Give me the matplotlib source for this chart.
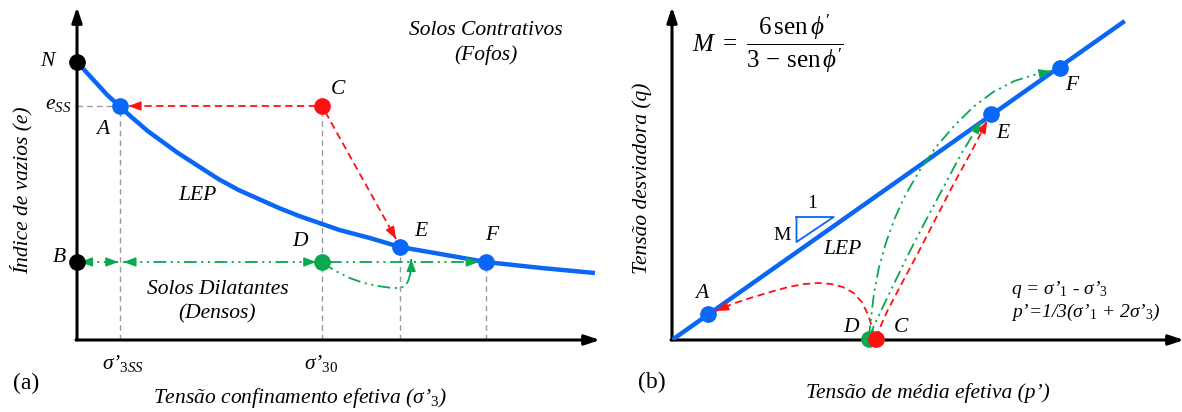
import numpy as np
import matplotlib.pyplot as plt

plt.rcParams['font.family'] = ['Liberation Serif', 'DejaVu Serif']
plt.rcParams['mathtext.fontset'] = 'custom'
plt.rcParams['mathtext.rm'] = 'Liberation Serif'
plt.rcParams['mathtext.it'] = 'Liberation Serif:italic'
plt.rcParams['mathtext.bf'] = 'Liberation Serif:bold'

AZUL = '#0A66F5'
VERM = '#FF1010'
VERDE = '#0AA84F'
CINZA = '#9A9A9A'

# ---------------------------------------------------------------
# (a) indice de vazios x tensao confinamento (unidades do esquema)
# ---------------------------------------------------------------
lep_s3 = [0, 10, 20, 30, 43, 55, 70, 85, 100, 120, 140, 160, 180, 200, 220,
          240, 260, 290, 320, 360, 405, 460, 513]
lep_e = [278, 267, 256, 245, 233, 222, 209, 198, 187, 174, 161, 150, 141, 132, 124,
         117, 110, 102, 93, 86, 78, 72, 67]

nomes_a = ['N', 'A', 'C', 'E', 'F', 'B', 'D']
s3_a = [0, 43, 243, 320, 405, 0, 243]
e_a = [278, 234, 234, 93, 78, 78, 78]
cores_a = ['k', AZUL, VERM, AZUL, AZUL, 'k', VERDE]

# caminho curvo D -> E (verde)
dip_s3 = [243, 248, 258, 270, 284, 298, 312, 320, 325, 328, 330, 331, 331]
dip_e = [78, 74, 68, 62, 57, 54, 52, 52, 54, 59, 66, 74, 81]

# ---------------------------------------------------------------
# (b) q x p'
# ---------------------------------------------------------------
lep_p = [0, 451]
lep_q = [0, 319]

nomes_b = ['A', 'E', 'F', 'D', 'C']
p_b = [36, 318, 386, 196, 203]
q_b = [26, 226, 272, 1, 1]
cores_b = [AZUL, AZUL, AZUL, VERDE, VERM]

red_ca_p = [201, 199, 195, 189, 181, 170, 158, 146, 132, 116, 98, 78, 60, 44]
red_ca_q = [4, 14, 26, 38, 47, 53, 56, 57, 56, 53, 48, 42, 36, 29]
red_ce_p = [204, 207, 215, 228, 244, 262, 280, 298, 314]
red_ce_q = [2, 12, 30, 55, 85, 120, 155, 188, 219]
grn_de_p = [197, 201, 210, 222, 236, 252, 270, 288, 308]
grn_de_q = [2, 14, 33, 58, 87, 118, 152, 186, 219]
grn_df_p = [196, 198, 201, 206, 213, 222, 233, 247, 263, 281, 300, 320, 341, 360, 378]
grn_df_q = [2, 20, 45, 72, 97, 122, 146, 170, 193, 214, 233, 248, 259, 265, 269]

tri_p = [124, 161, 124, 124]
tri_q = [123, 123, 98, 123]

TRACO = (0, (4, 2.5))
TRACO_PONTO = (0, (7, 2.5, 1.2, 2.5, 1.2, 2.5))
CINZA_TRACO = (0, (4, 3))


def ponta(ax, x, y, cor):
    # cabeca de seta no ultimo ponto do caminho
    dx, dy = x[-1] - x[-2], y[-1] - y[-2]
    n = np.hypot(dx, dy)
    ax.annotate('', xy=(x[-1], y[-1]), xytext=(x[-1] - dx / n * 2, y[-1] - dy / n * 2),
                arrowprops=dict(arrowstyle='-|>,head_length=0.75,head_width=0.28',
                                color=cor, lw=1, shrinkA=0, shrinkB=0), zorder=4)


def caminho(ax, x, y, cor, ls, inicio=False):
    ax.plot(x, y, color=cor, lw=1.3, ls=ls, clip_on=False, zorder=3)
    ponta(ax, x, y, cor)
    if inicio:
        ponta(ax, x[::-1], y[::-1], cor)


def eixos(ax, xmax, ymax):
    ax.set_xlim(0, xmax)
    ax.set_ylim(0, 335)
    ax.axis('off')
    kw = dict(arrowstyle='-|>,head_length=0.9,head_width=0.3', color='k', lw=2.2,
              shrinkA=0, shrinkB=0)
    ax.annotate('', xy=(0, ymax), xytext=(0, 0), arrowprops=kw)
    ax.annotate('', xy=(xmax, 0), xytext=(-1, 0), arrowprops=kw)


fig = plt.figure(figsize=(11.82, 4.12), dpi=100)
W, H = 1182.0, 412.0
ax1 = fig.add_axes([77 / W, 72 / H, 523 / W, 335 / H])
ax2 = fig.add_axes([672 / W, 72 / H, 512 / W, 335 / H])

txt = dict(style='italic', ha='center', va='center', fontsize=15.5)

# ------------------------------- (a)
eixos(ax1, 518, 333)

for xv, yv in [(43, 234), (243, 234), (320, 93), (405, 78)]:
    ax1.plot([xv, xv], [0, yv], color=CINZA, lw=1, ls=CINZA_TRACO, zorder=1)
ax1.plot([0, 43], [234, 234], color=CINZA, lw=1, ls=CINZA_TRACO, zorder=1)

ax1.plot(lep_s3, lep_e, color=AZUL, lw=3.2, solid_capstyle='butt', zorder=3)

caminho(ax1, [237, 51], [234, 234], VERM, TRACO)
caminho(ax1, [246, 316], [228, 101], VERM, TRACO)
caminho(ax1, [3, 41], [78, 78], VERDE, TRACO_PONTO, inicio=True)
caminho(ax1, [46, 237], [78, 78], VERDE, TRACO_PONTO, inicio=True)
caminho(ax1, [250, 398], [78, 78], VERDE, TRACO_PONTO)
caminho(ax1, dip_s3, dip_e, VERDE, TRACO_PONTO)

for nm, xv, yv, c in zip(nomes_a, s3_a, e_a, cores_a):
    ax1.plot(xv, yv, 'o', color=c, ms=11, clip_on=False, zorder=5)

lab_a = {'N': (-29, 279), 'A': (25, 210), 'C': (258, 250), 'E': (341, 108),
         'F': (411, 104), 'B': (-17, 82), 'D': (221, 99)}
for nm, (xv, yv) in lab_a.items():
    ax1.text(xv, yv, nm, **txt)
ax1.text(-19, 235, 'e$_{SS}$', **txt)
ax1.text(119, 145, 'LEP', **txt)
ax1.text(405, 297, 'Solos Contrativos\n(Fofos)', linespacing=1.4, **txt)
ax1.text(139, 38, 'Solos Dilatantes\n(Densos)', linespacing=1.35, **txt)
ax1.text(46, -23, 'σ’$_{\\mathit{3SS}}$', **txt)
ax1.text(242, -23, 'σ’$_{\\mathit{30}}$', **txt)
ax1.text(-50, -43, '(a)', ha='center', va='center', fontsize=17)
ax1.text(221, -58, 'Tensão confinamento efetiva (σ’$_{\\mathit{3}}$)', **txt)
ax1.text(-55, 150, 'Índice de vazios (e)', rotation=90, **txt)

# ------------------------------- (b)
eixos(ax2, 510, 333)

ax2.plot(lep_p, lep_q, color=AZUL, lw=3.2, solid_capstyle='butt', zorder=3)
ax2.plot(tri_p, tri_q, color=AZUL, lw=1.3, zorder=3)

caminho(ax2, red_ca_p, red_ca_q, VERM, TRACO)
caminho(ax2, red_ce_p, red_ce_q, VERM, TRACO)
caminho(ax2, grn_de_p, grn_de_q, VERDE, TRACO_PONTO)
caminho(ax2, grn_df_p, grn_df_q, VERDE, TRACO_PONTO)

for nm, xv, yv, c in zip(nomes_b, p_b, q_b, cores_b):
    ax2.plot(xv, yv, 'o', color=c, ms=11, clip_on=False, zorder=5)

lab_b = {'A': (30, 47), 'D': (178, 13), 'C': (228, 13), 'E': (330, 207), 'F': (398, 255)}
for nm, (xv, yv) in lab_b.items():
    ax2.text(xv, yv, nm, **txt)
ax2.text(170, 90, 'LEP', **txt)
ax2.text(140, 136, '1', ha='center', va='center', fontsize=14)
ax2.text(110, 105, 'M', ha='center', va='center', fontsize=14)
ax2.text(96, 296,
         r'$M\ =\ \dfrac{6\,\mathrm{sen}\,\phi^{\prime}}{3\,-\,\mathrm{sen}\,\phi^{\prime}}$',
         ha='center', va='center', fontsize=18)
ax2.text(338, 50, 'q = σ’$_{\\mathit{1}}$ - σ’$_{\\mathit{3}}$', style='italic',
         ha='left', va='center', fontsize=14)
ax2.text(338, 28, 'p’=1/3(σ’$_{\\mathit{1}}$ + 2σ’$_{\\mathit{3}}$)', style='italic',
         ha='left', va='center', fontsize=14)
ax2.text(-20, -42, '(b)', ha='center', va='center', fontsize=17)
ax2.text(255, -53, 'Tensão de média efetiva (p’)', **txt)
ax2.text(-30, 162, 'Tensão desviadora (q)', rotation=90, **txt)

fig.savefig('out.png', dpi=100)
